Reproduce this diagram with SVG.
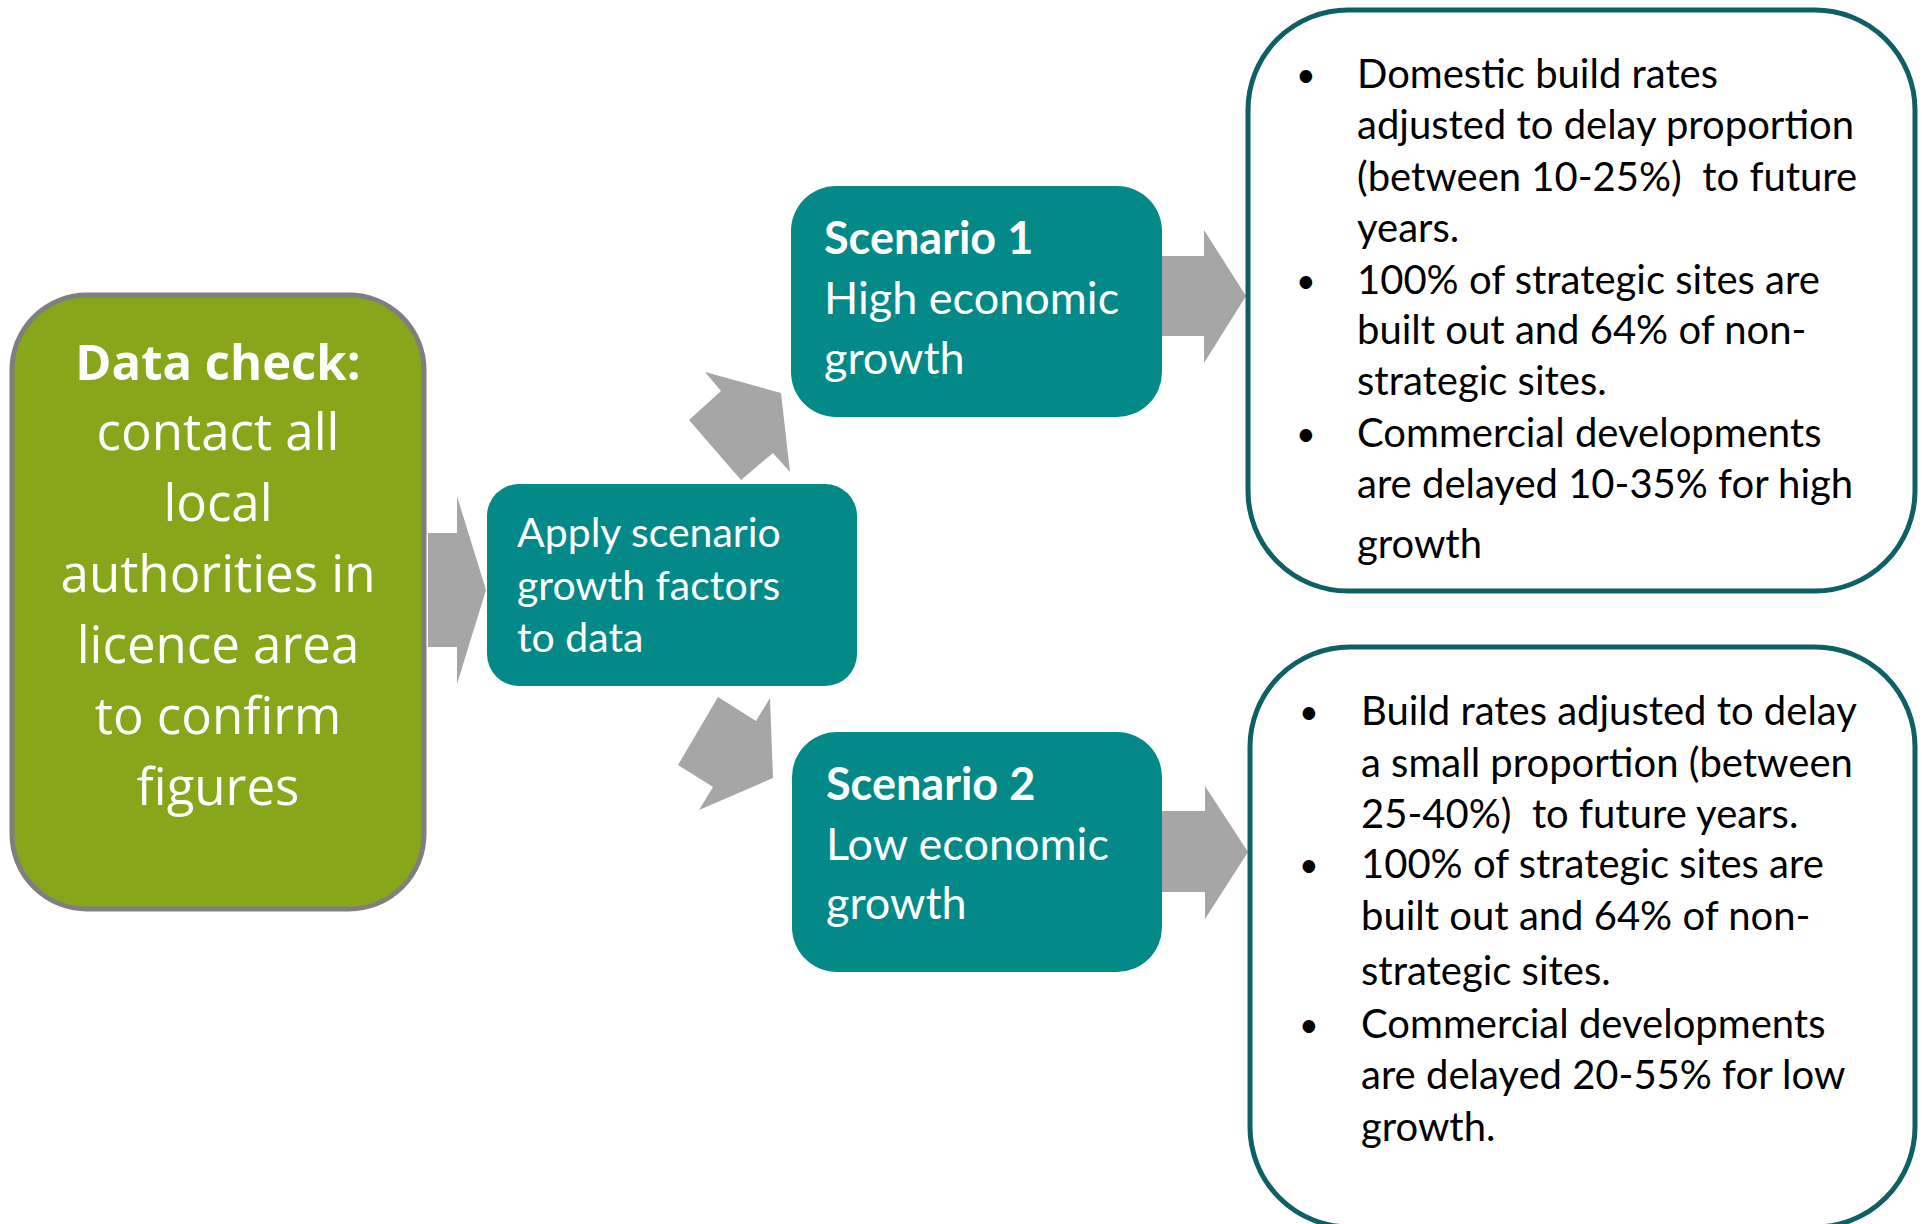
<svg xmlns="http://www.w3.org/2000/svg" width="1922" height="1224" viewBox="0 0 1922 1224">
<style>
.arrow{fill:#a6a6a6}
.teal{fill:#038987}
.wt{fill:#ffffff;font-family:Lato,"Open Sans",sans-serif}
.gt{fill:#ffffff;font-family:"Open Sans",sans-serif;font-size:51px;text-anchor:middle}
.gt.hd{font-size:49px;font-weight:bold}
.bt{fill:#000000;font-family:Lato,"Open Sans",sans-serif;font-size:40px;white-space:pre}
.bl{fill:#000000;font-family:Lato,"Open Sans",sans-serif;font-size:34px}
.bbox{fill:#ffffff;stroke:#0d6066;stroke-width:5}
</style>
<rect width="1922" height="1224" fill="#ffffff"/>
<g id="connectors">
<polygon class="arrow" points="428,533 457,533 457,496 486,590 457,684 457,647 428,647"/>
<polygon class="arrow" points="689,420 721,391 705,372 781,393 790,472 773,453 741,480"/>
<polygon class="arrow" points="718,697 756,721 770,698 773,778 699,810 713,787 678,765"/>
<polygon class="arrow" points="1162,256 1204,256 1204,230 1246,296 1204,363 1204,336 1162,336"/>
<polygon class="arrow" points="1162,811 1205,811 1205,786 1248,852 1205,919 1205,892 1162,892"/>
</g>
<g id="data-check">
<rect x="12" y="295" width="412" height="614" rx="75" ry="75" fill="#87a61a" stroke="#7f7f7f" stroke-width="5"/>
<text class="gt hd" x="218" y="380">Data check:</text>
<text class="gt" x="218" y="450">contact all</text>
<text class="gt" x="218" y="521">local</text>
<text class="gt" x="218" y="592">authorities in</text>
<text class="gt" x="218" y="663">licence area</text>
<text class="gt" x="218" y="734">to confirm</text>
<text class="gt" x="218" y="805">figures</text>
</g>
<g id="apply">
<rect class="teal" x="487" y="484" width="370" height="202" rx="32" ry="32"/>
<text class="wt" font-size="41" x="517" y="547">Apply scenario</text>
<text class="wt" font-size="41" x="517" y="600">growth factors</text>
<text class="wt" font-size="41" x="517" y="652">to data</text>
</g>
<g id="scenario1">
<rect class="teal" x="791" y="186" width="371" height="231" rx="45" ry="45"/>
<text class="wt" font-size="45" font-weight="bold" x="824" y="254">Scenario 1</text>
<text class="wt" font-size="45" x="824" y="314">High economic</text>
<text class="wt" font-size="45" x="824" y="374">growth</text>
</g>
<g id="scenario2">
<rect class="teal" x="792" y="732" width="370" height="240" rx="45" ry="45"/>
<text class="wt" font-size="45" font-weight="bold" x="826" y="800">Scenario 2</text>
<text class="wt" font-size="45" x="826" y="860">Low economic</text>
<text class="wt" font-size="45" x="826" y="919">growth</text>
</g>
<g id="high-details">
<rect class="bbox" x="1248" y="10" width="667" height="581" rx="100" ry="100"/>
<text class="bl" x="1296" y="87">•</text>
<text class="bl" x="1296" y="293">•</text>
<text class="bl" x="1296" y="446">•</text>
<text class="bt" x="1357" y="88">Domestic build rates</text>
<text class="bt" x="1357" y="139">adjusted to delay proportion</text>
<text class="bt" x="1357" y="191">(between 10-25%)  to future</text>
<text class="bt" x="1357" y="242">years.</text>
<text class="bt" x="1357" y="294">100% of strategic sites are</text>
<text class="bt" x="1357" y="344">built out and 64% of non-</text>
<text class="bt" x="1357" y="395">strategic sites.</text>
<text class="bt" x="1357" y="447">Commercial developments</text>
<text class="bt" x="1357" y="498">are delayed 10-35% for high</text>
<text class="bt" x="1357" y="558">growth</text>
</g>
<g id="low-details">
<rect class="bbox" x="1250" y="647" width="665" height="580" rx="100" ry="100"/>
<text class="bl" x="1299" y="724">•</text>
<text class="bl" x="1299" y="877">•</text>
<text class="bl" x="1299" y="1037">•</text>
<text class="bt" x="1361" y="725">Build rates adjusted to delay</text>
<text class="bt" x="1361" y="777">a small proportion (between</text>
<text class="bt" x="1361" y="828">25-40%)  to future years.</text>
<text class="bt" x="1361" y="878">100% of strategic sites are</text>
<text class="bt" x="1361" y="930">built out and 64% of non-</text>
<text class="bt" x="1361" y="985">strategic sites.</text>
<text class="bt" x="1361" y="1038">Commercial developments</text>
<text class="bt" x="1361" y="1089">are delayed 20-55% for low</text>
<text class="bt" x="1361" y="1141">growth.</text>
</g>
</svg>
